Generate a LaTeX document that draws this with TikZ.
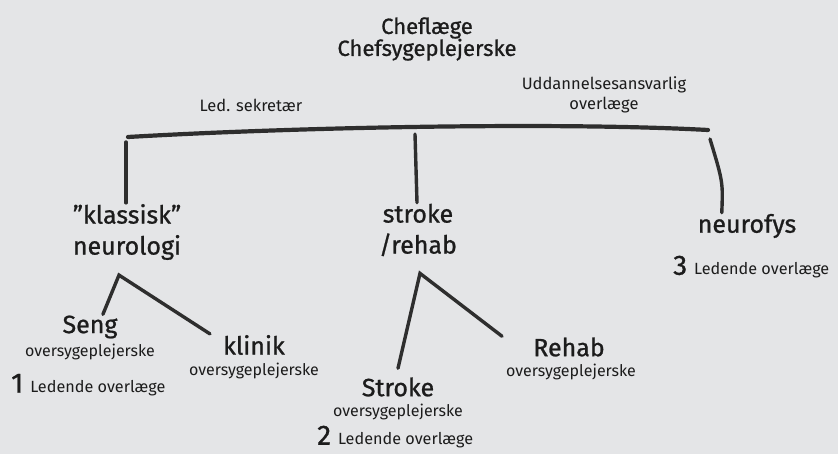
\documentclass[tikz,border=0pt]{standalone}
\usepackage{fontspec}
\setmainfont{Fira Sans}
\newfontfamily\markfont{Fira Sans}[FakeBold=0.9]
\usetikzlibrary{positioning, calc}
\definecolor{paper}{HTML}{E4E5E7}
\definecolor{ink}{HTML}{1C1C1C}
\newcommand{\leadnum}[1]{{\markfont\fontsize{28}{28}\selectfont #1}\hspace{7pt}{\fontsize{16.2}{19}\selectfont Ledende overlæge}}

\begin{document}
\begin{tikzpicture}[
    x=1pt, y=-1pt,
    % Text Styles
    unit/.style={text=ink, font=\markfont\fontsize{25}{31}\selectfont, align=center, inner sep=1pt},
    head/.style={text=ink, font=\markfont\fontsize{22}{22}\selectfont, align=center, inner sep=1pt},
    note/.style={text=ink, font=\fontsize{16.5}{20}\selectfont, align=center, inner sep=1pt},
    staff/.style={text=ink, font=\fontsize{16}{19}\selectfont, align=center, inner sep=1pt},
    lead/.style={text=ink, anchor=west, inner sep=1pt},
    % Line Styles
    brush/.style={draw=ink!92, line width=3.4pt, line cap=round}
]
    \useasboundingbox[fill=paper] (0,0) rectangle (838,454);

    % =====================================================================
    % 1. TOP: MANAGEMENT
    % =====================================================================
    \node (chef) [head] at (427, 39) {Cheflæge\\Chefsygeplejerske};
    \node (sekr) [note] at (251, 105) {Led. sekretær};
    \node (udd)  [note] at (604, 95) {Uddannelsesansvarlig\\overlæge};

    % =====================================================================
    % 2. MIDDLE: SECTIONS
    % =====================================================================
    \node (klassisk) [unit] at (127, 232) {”klassisk”\\neurologi};
    \node (stroke)   [unit] at (418, 230) {stroke\\/rehab};
    \node (neurofys) [unit] at (747, 226) {neurofys};
    \node (led3) [lead] at (672, 267) {\leadnum{3}};

    % =====================================================================
    % 3. BOTTOM: UNITS
    % =====================================================================
    \node (seng)      [unit] at (90, 327) {Seng};
    \node (sengsub)   [staff] at (90, 352) {oversygeplejerske};
    \node (led1) [lead] at (10, 385) {\leadnum{1}};

    \node (klinik)    [unit] at (254, 345) {klinik};
    \node (kliniksub) [staff] at (254, 371) {oversygeplejerske};

    \node (strokeafd) [unit] at (398, 387) {Stroke};
    \node (strokesub) [staff] at (398, 412) {oversygeplejerske};
    \node (led2) [lead] at (316, 437) {\leadnum{2}};

    \node (rehab)     [unit] at (569, 347) {Rehab};
    \node (rehabsub)  [staff] at (571, 372) {oversygeplejerske};

    % =====================================================================
    % CONNECTIONS
    % =====================================================================
    \coordinate (barL) at (128, 137);
    \coordinate (barR) at (708, 130);
    \draw[brush, line width=4.2pt] (barL) .. controls (300, 127) and (560, 122) .. (barR);

    \coordinate (dropL) at (126, 142);
    \coordinate (dropM) at (415, 134);
    \coordinate (dropR) at (710, 139);
    \draw[brush] (dropL) -- (klassisk.north -| dropL);
    \draw[brush] (dropM) -- ($(stroke.north)+(-1,0)$);
    \draw[brush] (dropR) .. controls (723, 182) .. ($(neurofys.north)!0.5!(neurofys.north west)$);

    \coordinate (apexL) at ($(klassisk.south)+(-8, 14)$);
    \draw[brush] ($(seng.north)!0.45!(seng.north east)$) -- (apexL) -- ($(klinik.north west)+(-12, 0)$);

    \coordinate (apexM) at ($(stroke.south)+(2, 16)$);
    \draw[brush] ($(strokeafd.north)+(0, -8)$) -- (apexM) -- ($(rehab.north west)+(-30, 0)$);

\end{tikzpicture}
\end{document}
